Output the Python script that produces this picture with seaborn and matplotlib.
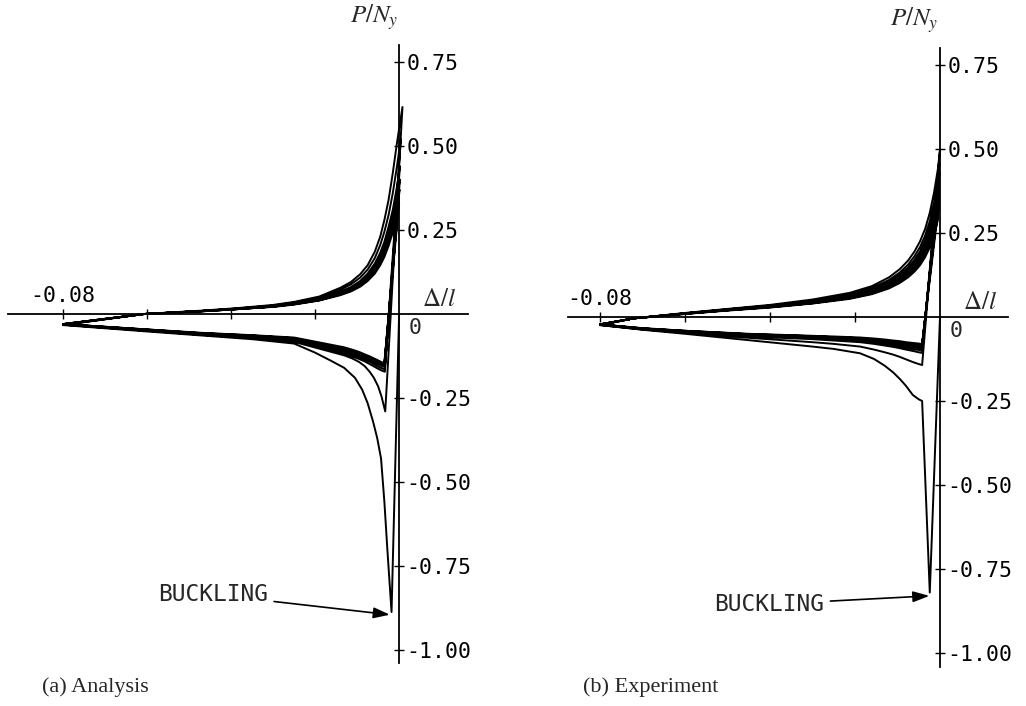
import matplotlib
matplotlib.use("Agg")
import matplotlib.pyplot as plt
import pandas as pd
import seaborn as sns

sns.set_theme(style="white")
plt.rcParams["font.family"] = ["DejaVu Sans"]
plt.rcParams["mathtext.fontset"] = "stix"

# ================= (a) Analysis =================
# buckling points (start of each compressive branch) and tension peaks
ana_buckle_x = [-0.0018, -0.0033, -0.0034, -0.0034, -0.0034, -0.0035, -0.0035, -0.0035]
ana_buckle_p = [-0.887, -0.290, -0.172, -0.165, -0.158, -0.152, -0.147, -0.143]
ana_peak_x = [0.0008, 0.0004, 0.0002, 0.0002, 0.0001, 0.0, 0.0]
ana_peak_p = [0.616, 0.52, 0.44, 0.40, 0.37, 0.35, 0.33]
# post-buckling branch abscissae (first cycle / later cycles)
ana_low_x_first = [-0.0028, -0.0035, -0.0043, -0.0052, -0.0062, -0.0075, -0.0088, -0.0105, -0.0131,
                   -0.0164, -0.020, -0.025, -0.035, -0.047, -0.060, -0.080]
ana_low_x = [-0.0042, -0.0050, -0.0060, -0.0070, -0.0082, -0.0095, -0.0112, -0.0131,
             -0.0164, -0.020, -0.025, -0.035, -0.047, -0.060, -0.080]
ana_low_p_1 = [-0.70, -0.56, -0.43, -0.37, -0.32, -0.265, -0.225, -0.19, -0.160,
               -0.138, -0.115, -0.088, -0.075, -0.064, -0.052, -0.033]
ana_low_p_2 = [-0.245, -0.215, -0.19, -0.172, -0.155, -0.143, -0.132, -0.123, -0.112, -0.100, -0.083, -0.072, -0.062, -0.050, -0.032]
ana_low_p_3 = [-0.168, -0.163, -0.156, -0.149, -0.141, -0.134, -0.126, -0.118, -0.107, -0.096, -0.080, -0.070, -0.060, -0.049, -0.031]
ana_low_p_4 = [-0.161, -0.156, -0.149, -0.142, -0.135, -0.128, -0.120, -0.112, -0.102, -0.092, -0.077, -0.068, -0.059, -0.048, -0.031]
ana_low_p_5 = [-0.154, -0.149, -0.143, -0.136, -0.129, -0.122, -0.115, -0.107, -0.098, -0.088, -0.074, -0.066, -0.058, -0.047, -0.030]
ana_low_p_6 = [-0.148, -0.143, -0.137, -0.131, -0.124, -0.117, -0.110, -0.103, -0.094, -0.085, -0.072, -0.064, -0.057, -0.046, -0.030]
ana_low_p_7 = [-0.143, -0.138, -0.132, -0.126, -0.120, -0.113, -0.106, -0.099, -0.091, -0.082, -0.070, -0.063, -0.056, -0.046, -0.030]
# tension (reloading) branch
ana_up_x = [-0.0607, -0.047, -0.039, -0.030, -0.025, -0.019, -0.014, -0.0115, -0.0093, -0.0075,
            -0.0058, -0.0045, -0.0035, -0.0025, -0.0015, -0.0005]
ana_up_p_1 = [0.0, 0.010, 0.017, 0.027, 0.036, 0.052, 0.078, 0.095, 0.118, 0.145, 0.185, 0.23, 0.28, 0.34, 0.42, 0.51]
ana_up_p_2 = [0.0, 0.009, 0.016, 0.025, 0.034, 0.049, 0.072, 0.088, 0.108, 0.132, 0.166, 0.205, 0.245, 0.295, 0.36, 0.44]
ana_up_p_3 = [0.0, 0.009, 0.015, 0.024, 0.032, 0.046, 0.066, 0.080, 0.098, 0.120, 0.150, 0.182, 0.215, 0.26, 0.31, 0.38]
ana_up_p_4 = [0.0, 0.009, 0.015, 0.023, 0.031, 0.044, 0.063, 0.076, 0.093, 0.113, 0.140, 0.170, 0.200, 0.24, 0.29, 0.35]
ana_up_p_5 = [0.0, 0.008, 0.014, 0.022, 0.030, 0.042, 0.060, 0.072, 0.088, 0.107, 0.132, 0.160, 0.188, 0.225, 0.27, 0.325]
ana_up_p_6 = [0.0, 0.008, 0.014, 0.022, 0.029, 0.041, 0.058, 0.069, 0.084, 0.102, 0.126, 0.152, 0.178, 0.213, 0.255, 0.305]
ana_up_p_7 = [0.0, 0.008, 0.014, 0.021, 0.028, 0.040, 0.056, 0.067, 0.081, 0.098, 0.120, 0.145, 0.170, 0.203, 0.243, 0.29]

# ================= (b) Experiment =================
exp_buckle_x = [-0.0024, -0.0042, -0.0042, -0.0042, -0.0042, -0.0042, -0.0042, -0.0042, -0.0042]
exp_buckle_p = [-0.82, -0.143, -0.107, -0.100, -0.094, -0.089, -0.085, -0.081, -0.078]
exp_peak_x = [0.0, -0.0001, -0.0001, -0.0002, -0.0002, -0.0003, -0.0003, -0.0003]
exp_peak_p = [0.497, 0.46, 0.43, 0.41, 0.39, 0.37, 0.35, 0.33]
exp_low_x_first = [-0.0042, -0.0050, -0.0064, -0.0080, -0.0094, -0.0110, -0.0130, -0.0155, -0.0188,
                   -0.025, -0.030, -0.045, -0.060, -0.070, -0.080]
exp_low_x = [-0.0050, -0.0064, -0.0080, -0.0094, -0.0110, -0.0130, -0.0155, -0.0188,
             -0.025, -0.030, -0.045, -0.060, -0.070, -0.080]
exp_low_p_1 = [-0.250, -0.245, -0.232, -0.205, -0.185, -0.165, -0.145, -0.125, -0.108,
               -0.095, -0.088, -0.069, -0.050, -0.038, -0.024]
exp_low_p_2 = [-0.140, -0.134, -0.126, -0.119, -0.112, -0.105, -0.097, -0.088, -0.080, -0.075, -0.062, -0.047, -0.037, -0.024]
exp_low_p_3 = [-0.105, -0.101, -0.097, -0.093, -0.089, -0.085, -0.080, -0.075, -0.070, -0.066, -0.058, -0.045, -0.036, -0.023]
exp_low_p_4 = [-0.098, -0.095, -0.091, -0.088, -0.084, -0.080, -0.076, -0.071, -0.067, -0.063, -0.056, -0.044, -0.035, -0.023]
exp_low_p_5 = [-0.092, -0.089, -0.086, -0.083, -0.080, -0.077, -0.073, -0.068, -0.064, -0.061, -0.054, -0.043, -0.035, -0.022]
exp_low_p_6 = [-0.087, -0.085, -0.082, -0.079, -0.076, -0.073, -0.070, -0.066, -0.062, -0.059, -0.053, -0.042, -0.034, -0.022]
exp_low_p_7 = [-0.083, -0.081, -0.078, -0.076, -0.073, -0.070, -0.067, -0.063, -0.060, -0.057, -0.051, -0.041, -0.034, -0.022]
exp_low_p_8 = [-0.079, -0.077, -0.075, -0.072, -0.070, -0.067, -0.064, -0.061, -0.058, -0.056, -0.050, -0.041, -0.033, -0.022]
exp_up_x = [-0.072, -0.060, -0.050, -0.040, -0.030, -0.0212, -0.016, -0.012, -0.0095, -0.0075,
            -0.006, -0.0047, -0.0035, -0.0024, -0.0014, -0.0005]
exp_up_p_1 = [-0.004, 0.012, 0.024, 0.036, 0.052, 0.072, 0.092, 0.118, 0.142, 0.168, 0.195, 0.225, 0.262, 0.31, 0.37, 0.44]
exp_up_p_2 = [-0.004, 0.011, 0.023, 0.034, 0.049, 0.068, 0.086, 0.110, 0.132, 0.156, 0.181, 0.208, 0.242, 0.285, 0.34, 0.40]
exp_up_p_3 = [-0.004, 0.011, 0.022, 0.033, 0.047, 0.065, 0.082, 0.104, 0.125, 0.147, 0.170, 0.195, 0.227, 0.266, 0.316, 0.372]
exp_up_p_4 = [-0.004, 0.010, 0.021, 0.032, 0.045, 0.062, 0.078, 0.099, 0.119, 0.140, 0.161, 0.185, 0.215, 0.252, 0.298, 0.352]
exp_up_p_5 = [-0.004, 0.010, 0.021, 0.031, 0.044, 0.060, 0.075, 0.095, 0.114, 0.134, 0.154, 0.176, 0.204, 0.239, 0.283, 0.334]
exp_up_p_6 = [-0.004, 0.010, 0.020, 0.030, 0.042, 0.058, 0.072, 0.091, 0.109, 0.128, 0.147, 0.168, 0.195, 0.228, 0.269, 0.318]
exp_up_p_7 = [-0.004, 0.009, 0.020, 0.029, 0.041, 0.056, 0.070, 0.088, 0.105, 0.123, 0.141, 0.161, 0.186, 0.217, 0.256, 0.303]
exp_up_p_8 = [-0.004, 0.009, 0.019, 0.028, 0.040, 0.054, 0.068, 0.085, 0.101, 0.118, 0.135, 0.154, 0.178, 0.207, 0.244, 0.288]

# ================= ticks / text =================
y_ticks = [0.75, 0.50, 0.25, -0.25, -0.50, -0.75, -1.00]
y_tick_labels = ["0.75", "0.50", "0.25", "-0.25", "-0.50", "-0.75", "-1.00"]
x_ticks = [-0.08, -0.06, -0.04, -0.02]
x_tick_labels = ["-0.08", "", "", ""]
captions = ["(a) Analysis", "(b) Experiment"]
note = "BUCKLING"


def build_path(bx, bp, lows, ups, up_x, px, pp):
    """Continuous load path: origin -> buckling -> post-buckling -> tension -> peak -> next buckling ..."""
    d, p = [0.0], [0.0]
    for k in range(len(ups)):
        lx, lp = lows[k]
        d += [bx[k]] + list(lx) + list(up_x) + [px[k]]
        p += [bp[k]] + list(lp) + list(ups[k]) + [pp[k]]
    d.append(bx[len(ups)])
    p.append(bp[len(ups)])
    return pd.DataFrame({"step": range(len(d)), "d": d, "p": p})


ana_df = build_path(
    ana_buckle_x, ana_buckle_p,
    [(ana_low_x_first, ana_low_p_1), (ana_low_x, ana_low_p_2), (ana_low_x, ana_low_p_3),
     (ana_low_x, ana_low_p_4), (ana_low_x, ana_low_p_5), (ana_low_x, ana_low_p_6), (ana_low_x, ana_low_p_7)],
    [ana_up_p_1, ana_up_p_2, ana_up_p_3, ana_up_p_4, ana_up_p_5, ana_up_p_6, ana_up_p_7],
    ana_up_x, ana_peak_x, ana_peak_p)
exp_df = build_path(
    exp_buckle_x, exp_buckle_p,
    [(exp_low_x_first, exp_low_p_1), (exp_low_x, exp_low_p_2), (exp_low_x, exp_low_p_3), (exp_low_x, exp_low_p_4),
     (exp_low_x, exp_low_p_5), (exp_low_x, exp_low_p_6), (exp_low_x, exp_low_p_7), (exp_low_x, exp_low_p_8)],
    [exp_up_p_1, exp_up_p_2, exp_up_p_3, exp_up_p_4, exp_up_p_5, exp_up_p_6, exp_up_p_7, exp_up_p_8],
    exp_up_x, exp_peak_x, exp_peak_p)

W, H = 1026, 706
fig = plt.figure(figsize=(W / 100, H / 100), dpi=100)
fig.patch.set_facecolor("white")


def add_ax(x0, x1, y0, y1):
    return fig.add_axes([x0 / W, 1 - y1 / H, (x1 - x0) / W, (y1 - y0) / H])


def style(ax, xlim, ylim):
    ax.set_xlim(xlim)
    ax.set_ylim(ylim)
    ax.patch.set_alpha(0)
    ax.grid(False)
    for s in ["left", "bottom"]:
        ax.spines[s].set_visible(False)
    for s in ["right", "top"]:
        ax.spines[s].set_visible(True)
        ax.spines[s].set_position(("data", 0))
        ax.spines[s].set_color("black")
        ax.spines[s].set_linewidth(1.3)
    ax.yaxis.tick_right()
    ax.xaxis.tick_top()
    ax.set_yticks(y_ticks)
    ax.set_yticklabels(y_tick_labels, family="DejaVu Sans Mono", fontsize=15.5, color="black")
    ax.set_xticks(x_ticks)
    ax.set_xticklabels(x_tick_labels, family="DejaVu Sans Mono", fontsize=15.5, color="black")
    ax.tick_params(axis="both", direction="inout", length=7, width=1.0, color="black", pad=2)
    ax.set_xlabel("")
    ax.set_ylabel("")


panels = [
    (add_ax(8, 468, 45, 663), ana_df, (-0.0931, 0.0164), (-1.0387, 0.8006),
     (-0.0022, -0.895), (-0.0312, -0.835)),
    (add_ax(568, 1008, 48, 667), exp_df, (-0.0875, 0.016), (-1.0417, 0.8006),
     (-0.0025, -0.83), (-0.0272, -0.855)),
]

for ax, df, xl, yl, tip, txt in panels:
    sns.lineplot(data=df, x="d", y="p", estimator=None, sort=False,
                 color="black", linewidth=1.4, ax=ax, legend=False)
    style(ax, xl, yl)
    ax.text(0.0038, -0.042, "0", ha="center", va="center", family="DejaVu Sans Mono", fontsize=15.5)
    ax.text(0.0095, 0.045, r"$\mathit{\Delta}/l$", ha="center", va="center", fontsize=18)
    ax.text(-0.006, 0.885, r"$P/N_y$", ha="center", va="center", fontsize=18, clip_on=False)
    ax.annotate(note, xy=tip, xytext=txt, ha="right", va="center",
                family="DejaVu Sans Mono", fontsize=16.5,
                arrowprops=dict(arrowstyle="-|>,head_length=0.6,head_width=0.2",
                                color="black", lw=1.2, shrinkA=2, shrinkB=0))

fig.text(95 / W, 1 - 687 / H, captions[0], ha="center", va="center", family="Liberation Serif", fontsize=16)
fig.text(651 / W, 1 - 687 / H, captions[1], ha="center", va="center", family="Liberation Serif", fontsize=16)

fig.savefig("out.png", dpi=100, facecolor="white")
